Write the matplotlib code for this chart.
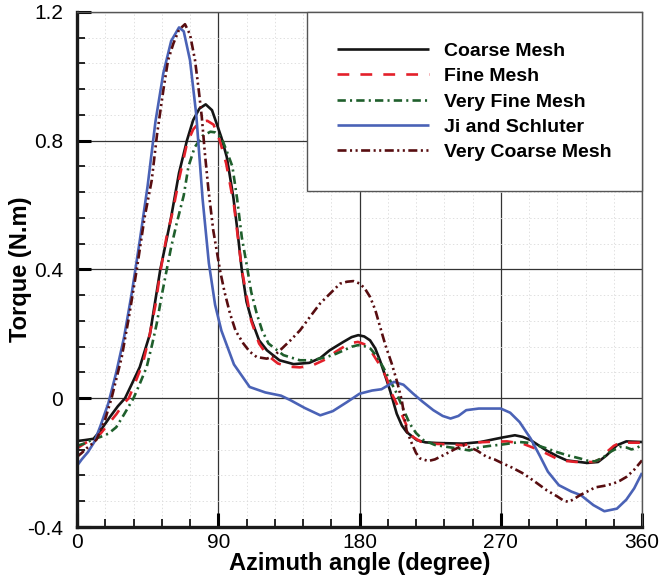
import matplotlib
matplotlib.use("Agg")
import matplotlib.pyplot as plt
from matplotlib.ticker import MultipleLocator

# ---- data (azimuth in degree, torque in N.m) ----
COARSE_ANG = [0, 5, 10.5, 15, 21, 26, 30.6, 35, 40, 46.5, 53, 59.5, 65, 70, 74, 78, 82, 86, 89,
              92, 95.4, 99.6, 102, 105, 108, 111.3, 116, 121, 129, 138, 148, 155, 161, 169.7,
              175, 179.2, 183, 186.7, 190, 193, 196, 199.4, 203.7, 207, 210, 216.5, 222, 229,
              246, 257, 265, 271, 279, 284, 289, 299, 306, 312, 325, 332, 337.5, 344, 350, 355, 360]
COARSE_TQ = [-0.133, -0.13, -0.126, -0.1, -0.058, -0.025, 0.0, 0.045, 0.097, 0.2, 0.398, 0.55,
             0.7, 0.8, 0.864, 0.9, 0.913, 0.895, 0.853, 0.81, 0.75, 0.625, 0.53, 0.398, 0.3,
             0.242, 0.18, 0.149, 0.118, 0.106, 0.11, 0.125, 0.149, 0.175, 0.19, 0.196, 0.192,
             0.18, 0.155, 0.118, 0.075, 0.025, -0.048, -0.085, -0.105, -0.13, -0.137, -0.139,
             -0.141, -0.136, -0.128, -0.122, -0.115, -0.12, -0.13, -0.162, -0.18, -0.193,
             -0.201, -0.198, -0.177, -0.146, -0.134, -0.135, -0.136]

FINE_ANG = [0, 5, 10, 15, 20, 25, 30, 33, 38, 42, 46, 50, 53, 57, 61, 65, 70, 74, 78, 83, 87,
            91, 95, 100, 105, 111, 116, 121, 128, 135, 142, 150, 158, 165, 170, 175, 179, 183,
            187, 192, 197, 201, 206, 210, 214, 219, 225, 235, 246, 256, 265, 274, 284, 295,
            308, 318, 329, 333, 338, 342, 346, 360]
FINE_TQ = [-0.156, -0.14, -0.127, -0.11, -0.08, -0.05, -0.015, 0.0, 0.06, 0.11, 0.19, 0.29,
           0.39, 0.5, 0.58, 0.68, 0.79, 0.835, 0.858, 0.862, 0.85, 0.8, 0.73, 0.6, 0.4, 0.24,
           0.17, 0.135, 0.108, 0.098, 0.096, 0.102, 0.12, 0.145, 0.16, 0.172, 0.175, 0.168,
           0.149, 0.11, 0.066, 0.01, -0.04, -0.085, -0.12, -0.135, -0.141, -0.143, -0.146,
           -0.137, -0.135, -0.134, -0.141, -0.162, -0.193, -0.198, -0.198, -0.19, -0.165,
           -0.148, -0.138, -0.138]

VFINE_ANG = [0, 5, 10, 15, 20, 25, 30, 36, 40, 44.4, 48, 50.8, 54, 57.1, 60, 63.5, 68, 71, 75,
             80, 85, 88, 92, 96, 99, 102, 105, 108, 111, 114.5, 118, 122, 131.5, 142, 150, 159,
             165, 170, 175, 179, 183, 187, 191, 195, 199, 203.7, 208, 212, 216, 220.7, 228,
             235.6, 245, 250, 256.8, 263, 270.6, 282, 287, 293, 300, 305.6, 313, 320.5, 326,
             330, 335, 339.6, 346, 350, 353.4, 357, 360]
VFINE_TQ = [-0.148, -0.14, -0.128, -0.12, -0.11, -0.09, -0.05, 0.0, 0.045, 0.097, 0.17, 0.232,
            0.32, 0.398, 0.47, 0.543, 0.63, 0.72, 0.78, 0.815, 0.828, 0.826, 0.81, 0.76, 0.72,
            0.62, 0.5, 0.418, 0.33, 0.263, 0.21, 0.17, 0.134, 0.118, 0.118, 0.128, 0.138,
            0.149, 0.16, 0.165, 0.162, 0.154, 0.13, 0.097, 0.06, 0.015, -0.035, -0.079,
            -0.108, -0.13, -0.145, -0.151, -0.158, -0.162, -0.152, -0.148, -0.144, -0.136,
            -0.138, -0.146, -0.157, -0.167, -0.178, -0.187, -0.195, -0.196, -0.185, -0.167,
            -0.151, -0.153, -0.159, -0.153, -0.146]

JI_ANG = [0, 3, 7, 11, 15, 20, 25, 30, 35, 40, 45, 50, 55, 60, 65, 68, 72, 76, 80, 84, 88, 92,
          100, 110, 120, 130, 136, 145, 155, 163, 172, 180, 188, 194, 202, 208, 214, 220, 227,
          233, 238, 243, 248, 256, 270, 276, 282, 289, 295, 300, 307, 315, 321, 329, 336, 344,
          350, 355, 360]
JI_TQ = [-0.21, -0.19, -0.167, -0.136, -0.085, -0.015, 0.08, 0.19, 0.33, 0.49, 0.66, 0.86, 1.01,
         1.11, 1.152, 1.14, 1.05, 0.88, 0.62, 0.42, 0.29, 0.21, 0.105, 0.035, 0.018, 0.008,
         -0.006, -0.03, -0.053, -0.04, -0.012, 0.014, 0.024, 0.028, 0.051, 0.042, 0.015,
         -0.01, -0.037, -0.055, -0.063, -0.055, -0.037, -0.032, -0.032, -0.045, -0.074,
         -0.125, -0.18, -0.228, -0.27, -0.29, -0.301, -0.332, -0.351, -0.343, -0.315, -0.28,
         -0.232]

VCOARSE_ANG = [0, 3, 6, 10, 12.5, 15, 17.8, 22, 28.5, 33, 38, 43, 47.6, 51, 55, 58, 61.4, 65,
               68.8, 72, 75.2, 77.5, 79.5, 81.5, 83.7, 86.8, 91.1, 94, 97.5, 101, 106, 110,
               114.5, 120.9, 125, 129.4, 136, 142.1, 148, 154.8, 161.2, 167.6, 172, 176.1,
               180.3, 183.5, 186.7, 190, 193.1, 196.5, 200.5, 204, 206.9, 210, 213.3, 216,
               218.6, 223.8, 228, 233.4, 240, 246.2, 250, 254.7, 261, 266, 270.6, 277, 284.4,
               292, 299.3, 306, 310, 313.1, 316, 320.5, 325, 330.1, 336, 341.7, 346, 350.2,
               355, 360]
VCOARSE_TQ = [-0.182, -0.17, -0.156, -0.14, -0.128, -0.1, -0.068, 0.0, 0.128, 0.25, 0.398,
              0.56, 0.677, 0.82, 0.957, 1.05, 1.102, 1.145, 1.162, 1.13, 1.05, 0.96, 0.874,
              0.76, 0.65, 0.522, 0.398, 0.33, 0.263, 0.21, 0.17, 0.145, 0.128, 0.123, 0.13,
              0.149, 0.18, 0.211, 0.25, 0.294, 0.325, 0.356, 0.362, 0.364, 0.356, 0.34, 0.315,
              0.275, 0.222, 0.165, 0.108, 0.05, -0.006, -0.1, -0.14, -0.17, -0.187, -0.195,
              -0.19, -0.177, -0.16, -0.146, -0.152, -0.162, -0.182, -0.19, -0.201, -0.215,
              -0.234, -0.26, -0.286, -0.305, -0.318, -0.322, -0.315, -0.301, -0.29, -0.277,
              -0.272, -0.265, -0.256, -0.244, -0.222, -0.193]

X_TICKS = [0, 90, 180, 270, 360]
Y_TICKS = [-0.4, 0, 0.4, 0.8, 1.2]
Y_TICK_LABELS = ["-0.4", "0", "0.4", "0.8", "1.2"]


def main() -> None:
    plt.rcParams["font.family"] = ["Liberation Sans", "DejaVu Sans"]
    plt.rcParams["lines.scale_dashes"] = False

    fig = plt.figure(figsize=(6.61, 5.82), dpi=100)
    ax = fig.add_axes([0.1165, 0.0945, 0.8548, 0.8849])

    # series: (angles, torques, label, color, dashes)
    series = [
        (COARSE_ANG, COARSE_TQ, "Coarse Mesh", "#151515", None),
        (FINE_ANG, FINE_TQ, "Fine Mesh", "#e3202a", (8.5, 8)),
        (VFINE_ANG, VFINE_TQ, "Very Fine Mesh", "#1f5f2c", (6, 3, 1.5, 3)),
        (JI_ANG, JI_TQ, "Ji and Schluter", "#4a62b6", None),
        (VCOARSE_ANG, VCOARSE_TQ, "Very Coarse Mesh", "#580d10", (6.5, 2.5, 1.5, 2.5, 1.5, 2.5)),
    ]
    for ang, tq, label, color, dashes in series:
        line, = ax.plot(ang, tq, color=color, lw=1.9, label=label, solid_capstyle="butt")
        if dashes is not None:
            line.set_dashes(dashes)

    ax.set_xlim(0, 360)
    ax.set_ylim(-0.4, 1.2)
    ax.set_xticks(X_TICKS)
    ax.set_yticks(Y_TICKS)
    ax.set_yticklabels(Y_TICK_LABELS)
    ax.xaxis.set_minor_locator(MultipleLocator(18))
    ax.yaxis.set_minor_locator(MultipleLocator(0.08))

    ax.grid(which="major", color="#333333", lw=0.9, ls="-")
    ax.grid(which="minor", color="#dadada", lw=0.6, ls=":")
    ax.set_axisbelow(True)

    ax.tick_params(which="major", direction="in", length=10, width=2.2, labelsize=15,
                   top=False, right=False, pad=4)
    ax.tick_params(which="minor", direction="in", length=6, width=1.2, top=False, right=False)
    ax.tick_params(axis="y", which="major", pad=10)

    for side in ("left", "bottom"):
        ax.spines[side].set_linewidth(2.4)
        ax.spines[side].set_color("#1a1a1a")
    for side in ("top", "right"):
        ax.spines[side].set_linewidth(1.0)
        ax.spines[side].set_color("#555555")

    ax.set_xlabel("Azimuth angle (degree)", fontsize=17, fontweight="bold", labelpad=0)
    ax.set_ylabel("Torque (N.m)", fontsize=17, fontweight="bold")
    ax.yaxis.set_label_coords(-0.08, 0.5)

    leg = ax.legend(loc="upper right", bbox_to_anchor=(1.0, 1.0), borderaxespad=0.0,
                    prop={"size": 14, "weight": "bold"}, handlelength=4.75,
                    handletextpad=0.77, labelspacing=0.4, borderpad=1.55,
                    fancybox=False, framealpha=1.0, edgecolor="#555555")
    leg.get_frame().set_linewidth(1.0)

    fig.savefig("out.png", dpi=100)
    plt.close(fig)


if __name__ == "__main__":
    main()
